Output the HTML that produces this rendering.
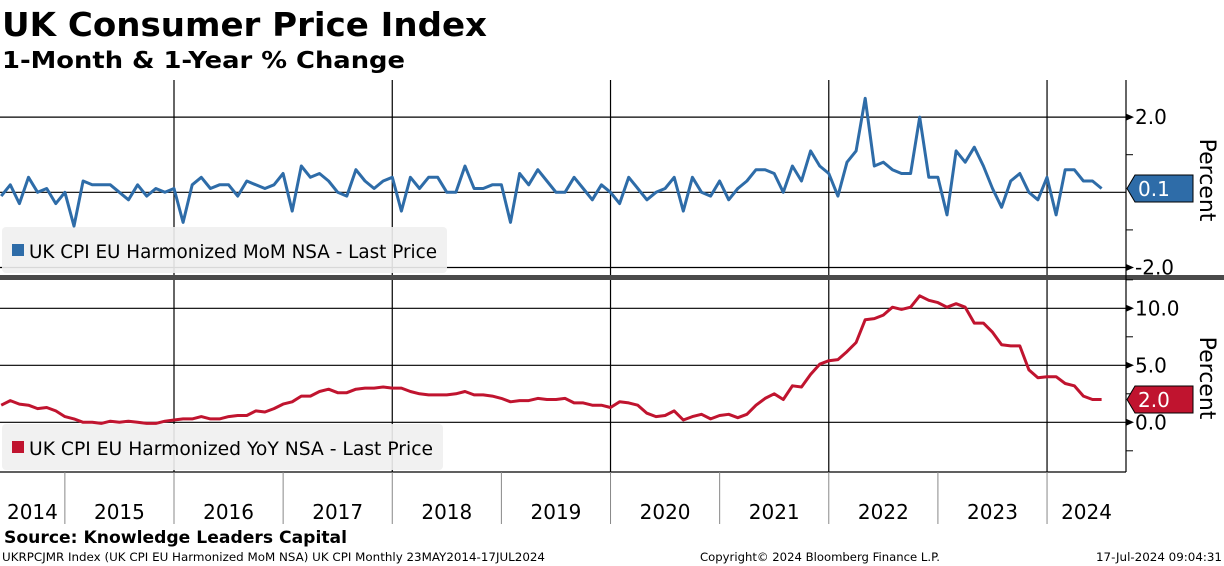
<!DOCTYPE html>
<html><head><meta charset="utf-8"><style>
html,body{margin:0;padding:0;background:#fff;}
svg{display:block;}
text{font-family:"DejaVu Sans","Liberation Sans",sans-serif;}
</style></head><body>
<svg id="chart" width="1224" height="566" viewBox="0 0 1224 566" xmlns="http://www.w3.org/2000/svg">
<text x="2" y="36" font-size="33" font-weight="bold" textLength="485" lengthAdjust="spacingAndGlyphs">UK Consumer Price Index</text>
<text x="2" y="68" font-size="23" font-weight="bold" textLength="403" lengthAdjust="spacingAndGlyphs">1-Month &amp; 1-Year % Change</text>
<g id="grid"></g>
<rect x="2" y="227" width="445" height="46" rx="4" fill="#f0f0f0" fill-opacity="0.9"/>
<rect x="12" y="244" width="12" height="12" fill="#2e6ca8"/>
<text x="29" y="258" font-size="19" textLength="408" lengthAdjust="spacingAndGlyphs">UK CPI EU Harmonized MoM NSA - Last Price</text>
<rect x="2" y="424" width="441" height="46" rx="4" fill="#f0f0f0" fill-opacity="0.9"/>
<rect x="12" y="441" width="12" height="12" fill="#c0142f"/>
<text x="29" y="455" font-size="19" textLength="404" lengthAdjust="spacingAndGlyphs">UK CPI EU Harmonized YoY NSA - Last Price</text>
<g id="series"></g>
<rect x="0" y="275" width="1224" height="5" fill="#4a4a4a"/>
<g id="axes"></g>
<text transform="translate(1200,180) rotate(90)" text-anchor="middle" font-size="22">Percent</text>
<text transform="translate(1200,378) rotate(90)" text-anchor="middle" font-size="22">Percent</text>
<text x="4" y="543" font-size="17" font-weight="bold" textLength="343" lengthAdjust="spacingAndGlyphs">Source: Knowledge Leaders Capital</text>
<text x="2" y="561" font-size="11.5" textLength="543" lengthAdjust="spacingAndGlyphs">UKRPCJMR Index (UK CPI EU Harmonized MoM NSA) UK CPI  Monthly 23MAY2014-17JUL2024</text>
<text x="700" y="561" font-size="11.5" textLength="240" lengthAdjust="spacingAndGlyphs">Copyright© 2024 Bloomberg Finance L.P.</text>
<text x="1096" y="561" font-size="11.5" textLength="126" lengthAdjust="spacingAndGlyphs">17-Jul-2024 09:04:31</text>
</svg>
<script>
// Monthly data from May 2014 to Jun 2024
const startYear = 2014, startMonth = 5;
const momValues = [
 -0.1,0.2,-0.3,0.4,0.0,0.1,-0.3,0.0,
 -0.9,0.3,0.2,0.2,0.2,0.0,-0.2,0.2,-0.1,0.1,0.0,0.1,
 -0.8,0.2,0.4,0.1,0.2,0.2,-0.1,0.3,0.2,0.1,0.2,0.5,
 -0.5,0.7,0.4,0.5,0.3,0.0,-0.1,0.6,0.3,0.1,0.3,0.4,
 -0.5,0.4,0.1,0.4,0.4,0.0,0.0,0.7,0.1,0.1,0.2,0.2,
 -0.8,0.5,0.2,0.6,0.3,0.0,0.0,0.4,0.1,-0.2,0.2,0.0,
 -0.3,0.4,0.1,-0.2,0.0,0.1,0.4,-0.5,0.4,0.0,-0.1,0.3,
 -0.2,0.1,0.3,0.6,0.6,0.5,0.0,0.7,0.3,1.1,0.7,0.5,
 -0.1,0.8,1.1,2.5,0.7,0.8,0.6,0.5,0.5,2.0,0.4,0.4,
 -0.6,1.1,0.8,1.2,0.7,0.1,-0.4,0.3,0.5,0.0,-0.2,0.4,
 -0.6,0.6,0.6,0.3,0.3,0.1];
const yoyValues = [
 1.5,1.9,1.6,1.5,1.2,1.3,1.0,0.5,
 0.3,0.0,0.0,-0.1,0.1,0.0,0.1,0.0,-0.1,-0.1,0.1,0.2,
 0.3,0.3,0.5,0.3,0.3,0.5,0.6,0.6,1.0,0.9,1.2,1.6,
 1.8,2.3,2.3,2.7,2.9,2.6,2.6,2.9,3.0,3.0,3.1,3.0,
 3.0,2.7,2.5,2.4,2.4,2.4,2.5,2.7,2.4,2.4,2.3,2.1,
 1.8,1.9,1.9,2.1,2.0,2.0,2.1,1.7,1.7,1.5,1.5,1.3,
 1.8,1.7,1.5,0.8,0.5,0.6,1.0,0.2,0.5,0.7,0.3,0.6,
 0.7,0.4,0.7,1.5,2.1,2.5,2.0,3.2,3.1,4.2,5.1,5.4,
 5.5,6.2,7.0,9.0,9.1,9.4,10.1,9.9,10.1,11.1,10.7,10.5,
 10.1,10.4,10.1,8.7,8.7,7.9,6.8,6.7,6.7,4.6,3.9,4.0,
 4.0,3.4,3.2,2.3,2.0,2.0];
const yearLabels = ["2014","2015","2016","2017","2018","2019","2020","2021","2022","2023","2024"];
const momTicks = [2.0,-2.0];
const momMinor = [1.0,-1.0];
const yoyTicks = [10.0,5.0,0.0];
const yoyMinor = [12.5,7.5,2.5,-2.5];

const NS = "http://www.w3.org/2000/svg";
const AXIS_X = 1126;
// x: month-end positions; Jan 1 2016 at 174, 109.13 px per year
function xOfYear(y){ return 174 + (y - 2016) * 109.13; }
function xOfIndex(i){ const m = (startMonth - 1) + i + 1; return xOfYear(startYear + m / 12); }
function yMom(v){ return 192.3 - v * 37.6; }
function yYoy(v){ return 422.3 - v * 11.4; }
function mk(tag, attrs, parent){ const e = document.createElementNS(NS, tag); for (const k in attrs) e.setAttribute(k, attrs[k]); parent.appendChild(e); return e; }

const grid = document.getElementById('grid');
const axes = document.getElementById('axes');
const series = document.getElementById('series');

// horizontal gridlines
momTicks.concat([0]).forEach(v => {
  const l = mk('line', {x1:0, x2:AXIS_X, y1:yMom(v), y2:yMom(v), stroke:'#000', 'stroke-width':1.2}, grid);
  
  
});
yoyTicks.forEach(v => {
  const l = mk('line', {x1:0, x2:AXIS_X, y1:yYoy(v), y2:yYoy(v), stroke:'#000', 'stroke-width':1.2}, grid);
  
  
});
// vertical gridlines at even years
[2016,2018,2020,2022,2024].forEach(y => {
  const x = xOfYear(y);
  const l = mk('line', {x1:x, x2:x, y1:80, y2:472, stroke:'#000', 'stroke-width':1.2}, grid);
  
  
});
// bottom axis line
const bl = mk('line', {x1:0, x2:AXIS_X, y1:472, y2:472, stroke:'#000', 'stroke-width':1.2}, axes);


// right axis line
const rl = mk('line', {x1:AXIS_X, x2:AXIS_X, y1:80, y2:472, stroke:'#000', 'stroke-width':1.2}, axes);


// year ticks and labels
for (let y = 2015; y <= 2024; y++) {
  const x = xOfYear(y);
  const t = mk('line', {x1:x, x2:x, y1:472, y2:524, stroke:'#888', 'stroke-width':1}, axes);
  
  
}
yearLabels.forEach((lab, i) => {
  const y = startYear + i;
  const x0 = Math.max(0, xOfYear(y)), x1 = Math.min(AXIS_X, xOfYear(y + 1));
  const t = mk('text', {x:(x0 + x1) / 2, y:519, 'text-anchor':'middle', 'font-size':20}, axes);
  t.textContent = lab;
  
  
});
function yTick(yp, label, name){
  const p = mk('path', {d:`M${AXIS_X} ${yp-3.5} L${AXIS_X+8} ${yp} L${AXIS_X} ${yp+3.5} Z`, fill:'#000'}, axes);
  
  
  const t = mk('text', {x:AXIS_X + 9, y:yp + 7, 'font-size':20}, axes);
  t.textContent = label;
  
  
}
function yMinor(yp, name){
  const l = mk('line', {x1:AXIS_X, x2:AXIS_X + 7, y1:yp, y2:yp, stroke:'#000', 'stroke-width':1}, axes);
  
  
}
momTicks.forEach(v => yTick(yMom(v), v.toFixed(1), 'mom-y'));
momMinor.forEach(v => yMinor(yMom(v), 'mom-y'));
yoyTicks.forEach(v => yTick(yYoy(v), v.toFixed(1), 'yoy-y'));
yoyMinor.forEach(v => yMinor(yYoy(v), 'yoy-y'));

// series lines
function line(vals, yf, color, name){
  const d = vals.map((v, i) => (i ? 'L' : 'M') + xOfIndex(i).toFixed(1) + ' ' + yf(v).toFixed(1)).join(' ');
  const p = mk('path', {d, fill:'none', stroke:color, 'stroke-width':3, 'stroke-linejoin':'round'}, series);
  
  
}
line(momValues, yMom, '#2e6ca8', 'mom-line');
line(yoyValues, yYoy, '#c0142f', 'yoy-line');

// last value tags
function tag(v, yp, color, name){
  const x = AXIS_X + 1;
  const p = mk('path', {d:`M${x} ${yp} L${x+8} ${yp-13.5} L${x+66} ${yp-13.5} L${x+66} ${yp+13.5} L${x+8} ${yp+13.5} Z`, fill:color, stroke:'#000', 'stroke-width':1}, axes);
  
  
  const t = mk('text', {x:x + 11, y:yp + 7.5, 'font-size':20, fill:'#fff'}, axes);
  t.textContent = v.toFixed(1);
  
  
}
tag(momValues[momValues.length - 1], 188.5, '#2e6ca8', 'mom-last-value-tag');
tag(yoyValues[yoyValues.length - 1], 399.5, '#c0142f', 'yoy-last-value-tag');
</script>
</body></html>
